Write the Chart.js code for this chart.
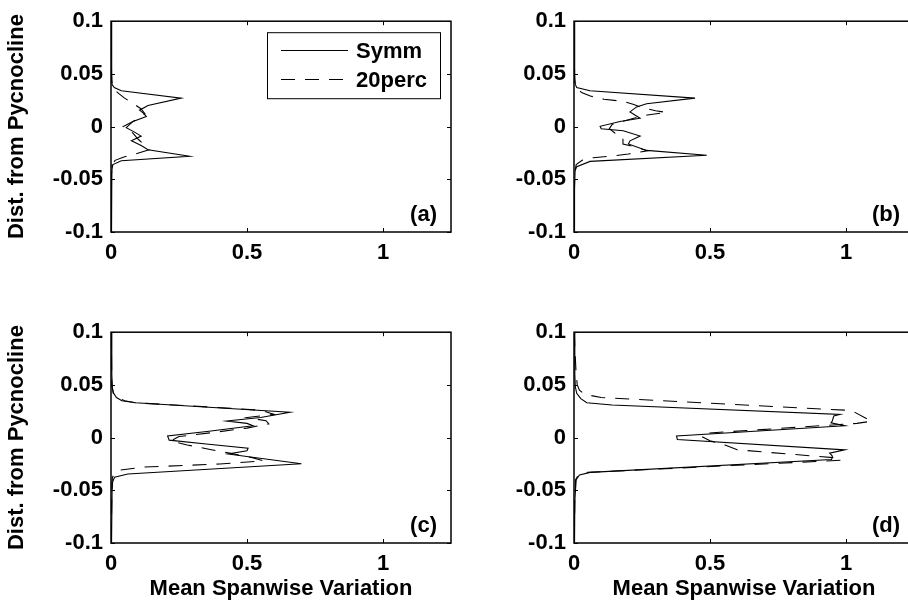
<!DOCTYPE html>
<html>
<head>
<meta charset="utf-8">
<title>Mean Spanwise Variation</title>
<script src="https://cdn.jsdelivr.net/npm/chart.js@4.4.0/dist/chart.umd.min.js"></script>
<style>
  html, body { margin: 0; padding: 0; background: #fff; width: 908px; height: 608px; overflow: hidden; }
  canvas { position: absolute; }
</style>
</head>
<body>
<canvas id="panelA" width="460" height="270" style="left:0px;top:0px"></canvas>
<canvas id="panelB" width="463" height="270" style="left:460px;top:0px"></canvas>
<canvas id="panelC" width="460" height="297" style="left:0px;top:311px"></canvas>
<canvas id="panelD" width="463" height="297" style="left:460px;top:311px"></canvas>
<script>
// tick labels
const xTicks = [0, 0.5, 1];
const yTicks = [-0.1, -0.05, 0, 0.05, 0.1];

// (a) distance from pycnocline / mean spanwise variation
const aSymmDepth = [0.1, 0.06, 0.045, 0.04, 0.037, 0.034, 0.027, 0.020, 0.0156, 0.0125, 0.0095, 0.0049, -0.001, -0.005, -0.009, -0.0135, -0.018, -0.022, -0.0282, -0.0324, -0.036, -0.04, -0.045, -0.06, -0.1];
const aSymmVal   = [0.002, 0.002, 0.003, 0.004, 0.012, 0.038, 0.258, 0.136, 0.105, 0.12, 0.13, 0.081, 0.056, 0.085, 0.111, 0.075, 0.111, 0.136, 0.289, 0.038, 0.007, 0.004, 0.003, 0.002, 0.002];
const aPercDepth = [0.1, 0.05, 0.04, 0.035, 0.031, 0.027, 0.022, 0.017, 0.012, 0.006, 0.0, -0.006, -0.012, -0.018, -0.022, -0.026, -0.029, -0.032, -0.036, -0.045, -0.1];
const aPercVal   = [0.001, 0.002, 0.004, 0.012, 0.03, 0.05, 0.08, 0.11, 0.125, 0.09, 0.045, 0.08, 0.10, 0.125, 0.14, 0.09, 0.045, 0.015, 0.005, 0.002, 0.001];

// (b)
const bSymmDepth = [0.1, 0.06, 0.045, 0.04, 0.037, 0.034, 0.027, 0.0217, 0.0187, 0.014, 0.008, 0.0049, 0.0003, -0.002, -0.004, -0.009, -0.0135, -0.0165, -0.0226, -0.0272, -0.033, -0.038, -0.042, -0.06, -0.1];
const bSymmVal   = [0.002, 0.002, 0.003, 0.005, 0.01, 0.059, 0.445, 0.267, 0.23, 0.206, 0.243, 0.169, 0.096, 0.10, 0.181, 0.243, 0.206, 0.2, 0.267, 0.488, 0.059, 0.01, 0.004, 0.002, 0.002];
const bPercDepth = [0.1, 0.05, 0.04, 0.036, 0.032, 0.029, 0.026, 0.024, 0.021, 0.018, 0.015, 0.0135, 0.011, 0.008, 0.005, 0.002, -0.002, -0.006, -0.01, -0.0165, -0.019, -0.023, -0.026, -0.028, -0.0295, -0.032, -0.036, -0.045, -0.1];
const bPercVal   = [0.001, 0.002, 0.004, 0.01, 0.03, 0.06, 0.11, 0.18, 0.22, 0.25, 0.3, 0.34, 0.27, 0.22, 0.18, 0.14, 0.13, 0.15, 0.18, 0.18, 0.22, 0.27, 0.2, 0.14, 0.07, 0.03, 0.008, 0.002, 0.001];

// (c)
const cSymmDepth = [0.1, 0.06, 0.047, 0.042, 0.038, 0.035, 0.033, 0.0241, 0.019, 0.0158, 0.0135, 0.0113, 0.006, 0.0015, -0.0024, -0.006, -0.0101, -0.0125, -0.0156, -0.0248, -0.0345, -0.0376, -0.042, -0.05, -0.1];
const cSymmVal   = [0.002, 0.003, 0.005, 0.01, 0.02, 0.04, 0.09, 0.658, 0.55, 0.425, 0.50, 0.522, 0.36, 0.208, 0.214, 0.35, 0.504, 0.50, 0.43, 0.70, 0.062, 0.013, 0.006, 0.004, 0.002];
const cPercDepth = [0.1, 0.05, 0.042, 0.038, 0.035, 0.033, 0.03, 0.026, 0.022, 0.019, 0.016, 0.013, 0.009, 0.005, 0.001, -0.003, -0.007, -0.011, -0.015, -0.019, -0.022, -0.025, -0.028, -0.031, -0.034, -0.038, -0.05, -0.1];
const cPercVal   = [0.001, 0.003, 0.008, 0.025, 0.05, 0.09, 0.3, 0.55, 0.6, 0.5, 0.57, 0.58, 0.5, 0.38, 0.25, 0.22, 0.28, 0.36, 0.44, 0.52, 0.56, 0.4, 0.12, 0.03, 0.012, 0.005, 0.003, 0.001];

// (d)
const dSymmDepth = [0.1, 0.06, 0.048, 0.042, 0.037, 0.033, 0.031, 0.022, 0.0205, 0.016, 0.014, 0.0113, 0.0015, -0.0018, -0.0116, -0.0147, -0.0175, -0.0208, -0.033, -0.0355, -0.04, -0.06, -0.1];
const dSymmVal   = [0.002, 0.003, 0.005, 0.01, 0.025, 0.047, 0.14, 0.978, 0.955, 0.95, 0.945, 0.996, 0.377, 0.38, 0.996, 0.94, 0.95, 0.947, 0.06, 0.02, 0.008, 0.003, 0.002];
const dPercDepth = [0.1, 0.08, 0.06, 0.05, 0.045, 0.041, 0.038, 0.0257, 0.0155, 0.0135, 0.004, 0.001, -0.003, -0.007, -0.0116, -0.019, -0.0215, -0.033, -0.036, -0.04, -0.06, -0.1];
const dPercVal   = [0.001, 0.004, 0.008, 0.012, 0.02, 0.04, 0.1, 1.02, 1.094, 1.04, 0.475, 0.47, 0.5, 0.555, 0.6, 0.953, 0.984, 0.05, 0.015, 0.006, 0.003, 0.001];

const seriesNames = ['Symm', '20perc'];

const boldFont = { family: "'Liberation Sans', Arial, Helvetica, sans-serif", weight: 'bold', size: 22 };
const fontStr = "bold 22px 'Liberation Sans', Arial, Helvetica, sans-serif";

function pairs(depth, val) {
  return depth.map((d, i) => ({ x: val[i], y: d }));
}

// box, inward ticks on all sides, panel tag and the matlab-ish legend
const matlabAxes = {
  id: 'matlabAxes',
  afterDraw(chart, args, opts) {
    const { ctx, chartArea: a, scales } = chart;
    ctx.save();
    ctx.strokeStyle = '#000';
    ctx.lineWidth = 1.5;
    ctx.strokeRect(a.left, a.top, a.right - a.left, a.bottom - a.top);
    ctx.lineWidth = 1;
    ctx.beginPath();
    scales.x.ticks.forEach(t => {
      const px = Math.round(scales.x.getPixelForValue(t.value)) + 0.5;
      ctx.moveTo(px, a.bottom); ctx.lineTo(px, a.bottom - 4);
      ctx.moveTo(px, a.top); ctx.lineTo(px, a.top + 4);
    });
    scales.y.ticks.forEach(t => {
      const py = Math.round(scales.y.getPixelForValue(t.value)) + 0.5;
      ctx.moveTo(a.left, py); ctx.lineTo(a.left + 4, py);
      ctx.moveTo(a.right, py); ctx.lineTo(a.right - 4, py);
    });
    ctx.stroke();

    ctx.fillStyle = '#000';
    ctx.font = fontStr;
    ctx.textAlign = 'right';
    ctx.textBaseline = 'middle';
    ctx.fillText(opts.tag, a.right - 14, a.bottom - 17);

    if (opts.legend) {
      const bw = 173, bh = 66;
      const bx = a.right - 11 - bw, by = a.top + 11;
      ctx.fillStyle = '#fff';
      ctx.fillRect(bx, by, bw, bh);
      ctx.strokeStyle = '#000';
      ctx.lineWidth = 1;
      ctx.strokeRect(bx + 0.5, by + 0.5, bw, bh);
      chart.data.datasets.forEach((ds, i) => {
        const ly = Math.round(by + 18 + i * 28.5) + 0.5;
        ctx.setLineDash(ds.borderDash || []);
        ctx.beginPath();
        ctx.moveTo(bx + 14, ly);
        ctx.lineTo(bx + 81, ly);
        ctx.stroke();
        ctx.setLineDash([]);
        ctx.fillStyle = '#000';
        ctx.textAlign = 'left';
        ctx.fillText(ds.label, bx + 89, ly + 1);
      });
    }
    ctx.restore();
  }
};

function makePanel(id, symmDepth, symmVal, percDepth, percVal, o) {
  return new Chart(document.getElementById(id), {
    type: 'scatter',
    data: {
      datasets: [
        { label: seriesNames[0], data: pairs(symmDepth, symmVal), showLine: true,
          borderColor: '#000', borderWidth: 1.1, pointRadius: 0, tension: 0, fill: false },
        { label: seriesNames[1], data: pairs(percDepth, percVal), showLine: true,
          borderColor: '#000', borderWidth: 1.1, pointRadius: 0, tension: 0, fill: false,
          borderDash: [14, 10] }
      ]
    },
    options: {
      responsive: false,
      animation: false,
      events: [],
      layout: { padding: { top: 14, right: 9, left: 0, bottom: 0 } },
      plugins: {
        legend: { display: false },
        tooltip: { enabled: false },
        matlabAxes: { tag: o.tag, legend: o.legend }
      },
      scales: {
        x: {
          type: 'linear', min: 0, max: 1.25,
          afterBuildTicks: s => { s.ticks = xTicks.map(v => ({ value: v })); },
          afterFit: s => { s.height = o.xAxisH; },
          grid: { display: false, drawTicks: false },
          border: { display: false },
          ticks: { color: '#000', font: boldFont, padding: 8, maxRotation: 0, autoSkip: false,
                   callback: v => String(v) },
          title: { display: o.xTitle, text: 'Mean Spanwise Variation', color: '#000',
                   font: boldFont, padding: { top: 0, bottom: 6 } }
        },
        y: {
          type: 'linear', min: -0.1, max: 0.1,
          afterBuildTicks: s => { s.ticks = yTicks.map(v => ({ value: v })); },
          afterFit: s => { s.width = o.yAxisW; },
          grid: { display: false, drawTicks: false },
          border: { display: false },
          ticks: { color: '#000', font: boldFont, padding: 8, autoSkip: false,
                   callback: v => String(v) },
          title: { display: o.yTitle, text: 'Dist. from Pycnocline', color: '#000',
                   font: boldFont, padding: { top: 4, bottom: 0 } }
        }
      }
    },
    plugins: [matlabAxes]
  });
}

makePanel('panelA', aSymmDepth, aSymmVal, aPercDepth, aPercVal,
  { tag: '(a)', legend: true, yTitle: true, xTitle: false, yAxisW: 111, xAxisH: 38 });
makePanel('panelB', bSymmDepth, bSymmVal, bPercDepth, bPercVal,
  { tag: '(b)', legend: false, yTitle: false, xTitle: false, yAxisW: 114, xAxisH: 38 });
makePanel('panelC', cSymmDepth, cSymmVal, cPercDepth, cPercVal,
  { tag: '(c)', legend: false, yTitle: true, xTitle: true, yAxisW: 111, xAxisH: 65 });
makePanel('panelD', dSymmDepth, dSymmVal, dPercDepth, dPercVal,
  { tag: '(d)', legend: false, yTitle: false, xTitle: true, yAxisW: 114, xAxisH: 65 });
</script>
</body>
</html>
